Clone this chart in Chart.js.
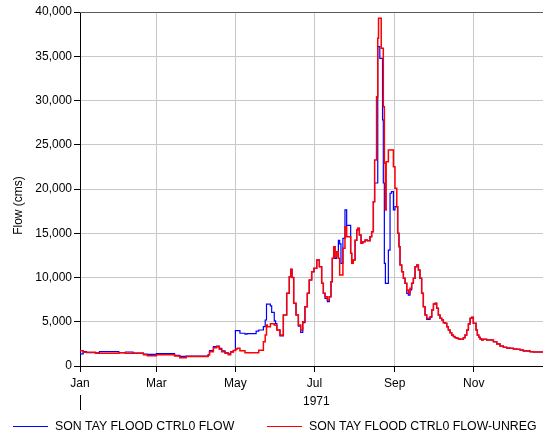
<!DOCTYPE html>
<html>
<head>
<meta charset="utf-8">
<script src="https://cdn.jsdelivr.net/npm/chart.js@4/dist/chart.umd.min.js"></script>
<style>
  body { margin: 0; background: #fff; }
  #flow-chart { display: block; }
</style>
</head>
<body>
<canvas id="flow-chart" width="543" height="436"></canvas>
<script>
// day of year (0 = Jan 1, 1971)
const flowDays = [
  0, 2.5, 5, 12, 15, 30, 35, 41, 49, 52, 59, 73, 77, 82, 99, 100, 103, 105.5, 107.6, 109.4,
  112, 114.5, 116.3, 118.4, 120, 120.5, 121.5, 123.5, 127.4, 129, 136, 138, 141.6, 143, 144, 144.6,
  147, 148, 150, 151, 152, 154.4, 157, 159.6, 161.6, 162.8, 163.7, 165, 166.8, 168.6, 170.4, 172,
  173.7, 175.5, 177, 178.9, 180.7, 182.8, 184.8, 186.6, 187.9, 189.2, 191, 192.5, 193.8, 194.8,
  195.9, 196.9, 198.2, 199.5, 200.5, 201.5, 203, 204.6, 205.9, 209, 209.8, 211, 212.4, 213.7,
  214.4, 215.7, 217, 218.3, 220.1, 221.9, 223.9, 225.2, 226.5, 227.5, 229, 229.9, 230.5, 231.5,
  232.6, 233.6, 234.2, 235, 235.8, 236.4, 238.1, 239.4, 240.5, 242, 243.2, 244.6, 245.3, 246.3,
  247.1, 248.4, 249.7, 251, 252.3, 253.5, 254.8, 256.1, 257.4, 258.7, 260, 261.3, 262.5, 263.8,
  265.1, 266.4, 267.7, 269, 270.3, 271.6, 272.9, 274.2, 275.4, 276.7, 278, 279.3, 280.6, 281.9,
  283.2, 284.4, 285.7, 287, 288.3, 289.6, 290.9, 292.2, 293.4, 296, 297.3, 298.6, 299.9, 301.2,
  302.5, 303.7, 305.8, 306.8, 307.9, 308.9, 310.2, 311.4, 314, 319.2, 321.8, 324.3, 326.9, 329.5,
  332, 334.6, 337.2, 339.8, 342.3, 347.5, 350, 355.2, 357.5
];

// SON TAY FLOOD CTRL0 FLOW (cms)
const ctrlFlow = [
  1730, 1360, 1620, 1500, 1500, 1620, 1500, 1580, 1450, 1350, 1320, 1400, 1200, 1080, 1130, 1300, 1750, 2200, 2260, 2000,
  1700, 1500, 1360, 1600, 1750, 3990, 3990, 3990, 3700, 3600, 3650, 3950, 4070, 4440, 5200, 7000,
  7000, 6800, 6070, 5100, 4800, 4070, 3400, 5760, 8210, 10090, 10920, 10000, 7080, 5760, 4500, 3800,
  4900, 6700, 8210, 9720, 10660, 11040, 11980, 11220, 9340, 8210, 7650, 7270, 7830, 9530,
  12170, 13480, 12170, 12920, 14200, 13790, 11600, 14430, 17630, 15900, 12730, 11600, 11980, 14200,
  15360, 15560, 14800, 13860, 14050, 14240, 14160, 14610, 15180, 18570, 20680, 20680, 36080, 36080,
  34770, 34770, 27800, 20680, 11600, 9340, 9340, 13100, 19520, 19700, 17630, 18000, 18000, 15000,
  13480, 11410, 10660, 9910, 9340, 8210, 8000, 8600, 9340, 9910, 11220, 11410, 10850, 9910,
  8210, 6700, 5760, 5270, 5270, 5500, 6330, 7000, 7080, 6520, 5760, 5390, 5200, 4900,
  4820, 4440, 4070, 3770, 3500, 3320, 3200, 3130, 3060, 3020, 3200, 3500, 4070, 4750,
  5390, 5500, 4820, 4070, 3500, 3240, 3060, 2940, 3020, 2940, 2750, 2490, 2260, 2110,
  2030, 2000, 1920, 1880, 1810, 1700, 1620, 1580, 1580
];

// SON TAY FLOOD CTRL0 FLOW-UNREG (cms)
const unregFlow = [
  1730, 1730, 1540, 1540, 1430, 1430, 1510, 1430, 1430, 1280, 1170, 1280, 1130, 940, 1060, 1240, 1620, 2070, 2180, 1880,
  1620, 1430, 1280, 1580, 1750, 1850, 1920, 2000, 1730, 1510, 1510, 1510, 1780, 2750, 3500, 4630,
  4440, 4780, 4780, 4630, 4600, 4070, 3500, 5760, 8210, 10090, 10920, 10000, 7080, 5760, 4630, 4070,
  5010, 6700, 8210, 9720, 10660, 11040, 11980, 11220, 9340, 8210, 7830, 7460, 7830, 9530,
  12170, 13480, 12350, 12920, 12170, 10280, 10280, 13300, 15740, 14610, 12730, 11600, 11980, 14200,
  15360, 15560, 14800, 13860, 14050, 14240, 14160, 14610, 15180, 18570, 23280, 30430, 37030, 39290,
  39290, 35900, 35900, 29300, 22900, 17630, 23090, 24400, 24400, 24400, 22520, 20080, 18000, 15000,
  13480, 11410, 10660, 9910, 9340, 8590, 8210, 8780, 9340, 9910, 11220, 11410, 10850, 9910,
  8210, 6700, 5760, 5390, 5390, 5570, 6330, 7000, 7080, 6520, 5760, 5390, 5200, 4900,
  4820, 4440, 4070, 3770, 3500, 3320, 3200, 3130, 3060, 3020, 3200, 3500, 4070, 4750,
  5390, 5500, 4820, 4070, 3500, 3240, 3060, 2940, 3020, 2940, 2750, 2490, 2260, 2110,
  2030, 2000, 1920, 1880, 1810, 1700, 1620, 1580, 1580
];

const monthDays = [0, 59, 120, 181, 243, 304];
const monthLabels = ['Jan', 'Mar', 'May', 'Jul', 'Sep', 'Nov'];
const yearLabel = '1971';
const yearLength = 365;
const lastDay = 357.5;

const seriesNames = ['SON TAY FLOOD CTRL0 FLOW', 'SON TAY FLOOD CTRL0 FLOW-UNREG'];
const seriesColors = ['#0000ff', '#ff0000'];

const fontFamily = '"Liberation Sans", Arial, sans-serif';
Chart.defaults.font.family = fontFamily;
Chart.defaults.font.size = 12;
Chart.defaults.color = '#000';

function toPoints(values) {
  return flowDays.map((d, i) => ({ x: d, y: values[i] }));
}

// year marker, top border, axis title and legend drawn by hand
const chartExtras = {
  id: 'chartExtras',
  afterDraw(chart) {
    const ctx = chart.ctx;
    const area = chart.chartArea;
    const xs = chart.scales.x;
    ctx.save();

    ctx.strokeStyle = '#5a5a5a';
    ctx.lineWidth = 1;
    ctx.beginPath();
    ctx.moveTo(area.left, Math.round(area.top) + 0.5);
    ctx.lineTo(area.right, Math.round(area.top) + 0.5);
    ctx.stroke();

    const yearStart = xs.getPixelForValue(0);
    const yearEnd = xs.getPixelForValue(yearLength);
    ctx.strokeStyle = '#000';
    ctx.beginPath();
    ctx.moveTo(Math.round(yearStart) + 0.5, area.bottom + 29);
    ctx.lineTo(Math.round(yearStart) + 0.5, area.bottom + 44);
    ctx.stroke();

    ctx.fillStyle = '#000';
    ctx.font = '12px ' + fontFamily;
    ctx.textAlign = 'center';
    ctx.textBaseline = 'middle';
    ctx.fillText(yearLabel, (yearStart + yearEnd) / 2, area.bottom + 36);

    ctx.save();
    ctx.translate(18.5, 205.5);
    ctx.rotate(-Math.PI / 2);
    ctx.fillText('Flow (cms)', 0, 0);
    ctx.restore();

    // legend
    const legendX = [13, 267];
    const legendY = 426.5;
    ctx.textAlign = 'left';
    ctx.font = '12.3px ' + fontFamily;
    seriesNames.forEach((name, i) => {
      ctx.strokeStyle = seriesColors[i];
      ctx.beginPath();
      ctx.moveTo(legendX[i], legendY);
      ctx.lineTo(legendX[i] + 35, legendY);
      ctx.stroke();
      ctx.fillText(name, legendX[i] + 42, legendY);
    });
    ctx.restore();
  }
};

const ctx = document.getElementById('flow-chart').getContext('2d');
const chart = new Chart(ctx, {
  type: 'line',
  data: {
    datasets: [{
      label: seriesNames[0],
      data: toPoints(ctrlFlow),
      borderColor: seriesColors[0],
      borderWidth: 1.2,
      pointRadius: 0,
      stepped: 'after',
      order: 1
    }, {
      label: seriesNames[1],
      data: toPoints(unregFlow),
      borderColor: seriesColors[1],
      borderWidth: 1.5,
      pointRadius: 0,
      stepped: 'after',
      order: 0
    }]
  },
  options: {
    responsive: false,
    animation: false,
    layout: { padding: { top: 12, right: 0, bottom: 0, left: 0 } },
    plugins: {
      legend: { display: false },
      tooltip: { enabled: false }
    },
    scales: {
      x: {
        type: 'linear',
        min: 0,
        max: lastDay,
        afterBuildTicks: scale => {
          scale.ticks = monthDays.map(v => ({ value: v }));
        },
        afterFit: scale => { scale.height = 70; },
        ticks: {
          padding: 4,
          maxRotation: 0,
          autoSkip: false,
          callback: value => monthLabels[monthDays.indexOf(value)]
        },
        grid: { color: '#c8c8c8', tickColor: '#000', tickLength: 6 },
        border: { color: '#000' }
      },
      y: {
        min: 0,
        max: 40000,
        afterFit: scale => { scale.width = 80; },
        ticks: {
          stepSize: 5000,
          padding: 2,
          callback: value => value.toLocaleString('en-US')
        },
        grid: { color: '#c8c8c8', tickColor: '#000', tickLength: 6 },
        border: { color: '#000' }
      }
    }
  },
  plugins: [chartExtras]
});
</script>
</body>
</html>
